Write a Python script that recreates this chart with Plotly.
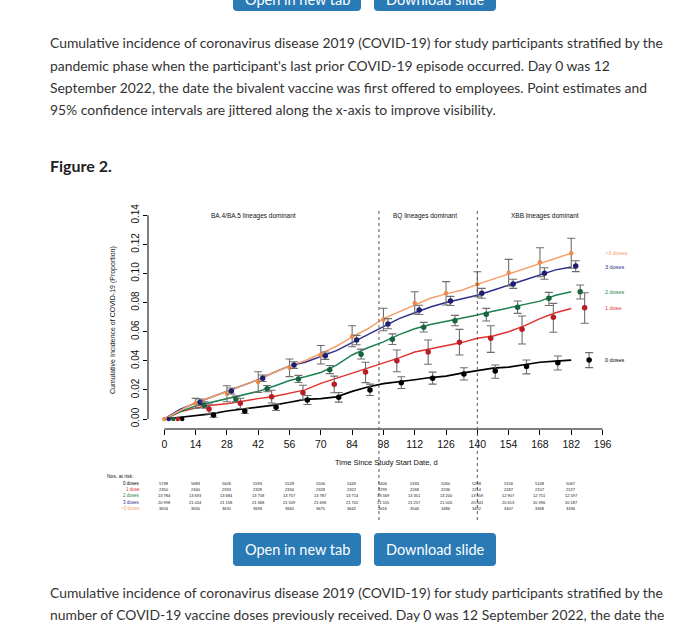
import plotly.graph_objects as go

W, H = 685, 624

def X(px):
    return px / W

def Y(py):
    return 1 - py / H

# ---------------- data ----------------
groups = ["0 doses", "1 dose", "2 doses", "3 doses", ">3 doses"]

curve_days = [0, 7, 14, 21, 28, 35, 42, 49, 56, 63, 70, 77, 84, 91, 98,
              105, 112, 119, 126, 133, 140, 147, 154, 161, 168, 175, 182]
cum_0 = [0, 0.0012, 0.0025, 0.0035, 0.0055, 0.0068, 0.0078, 0.0095, 0.0115, 0.0135, 0.0140,
         0.0152, 0.0190, 0.0220, 0.0243, 0.0255, 0.0270, 0.0285, 0.0295, 0.0315, 0.0330,
         0.0350, 0.0357, 0.0375, 0.0390, 0.0398, 0.0405]
cum_1 = [0, 0.0050, 0.0075, 0.0095, 0.0105, 0.0125, 0.0140, 0.0155, 0.0175, 0.0200, 0.0245,
         0.0280, 0.0310, 0.0345, 0.0380, 0.0420, 0.0460, 0.0480, 0.0505, 0.0525, 0.0555,
         0.0570, 0.0600, 0.0640, 0.0690, 0.0730, 0.0760]
cum_2 = [0, 0.0050, 0.0090, 0.0115, 0.0135, 0.0160, 0.0190, 0.0225, 0.0265, 0.0290, 0.0320,
         0.0370, 0.0440, 0.0490, 0.0530, 0.0580, 0.0620, 0.0650, 0.0670, 0.0690, 0.0715,
         0.0740, 0.0765, 0.0790, 0.0810, 0.0850, 0.0875]
cum_3 = [0, 0.0065, 0.0110, 0.0150, 0.0185, 0.0225, 0.0270, 0.0320, 0.0365, 0.0390, 0.0430,
         0.0470, 0.0525, 0.0580, 0.0640, 0.0690, 0.0730, 0.0770, 0.0800, 0.0825, 0.0850,
         0.0885, 0.0920, 0.0950, 0.0990, 0.1025, 0.1045]
cum_4 = [0, 0.0060, 0.0115, 0.0150, 0.0190, 0.0225, 0.0270, 0.0320, 0.0365, 0.0400, 0.0450,
         0.0500, 0.0565, 0.0620, 0.0690, 0.0735, 0.0785, 0.0830, 0.0860, 0.0885, 0.0925,
         0.0960, 0.1000, 0.1035, 0.1070, 0.1105, 0.1140]

pt_days = [0, 14, 28, 42, 56, 70, 84, 98, 112, 126, 140, 154, 168, 182]
pt_0 = [0, 0.0027, 0.0055, 0.0080, 0.0131, 0.0149, 0.0200, 0.0250, 0.0280, 0.0310, 0.0330, 0.0360, 0.0387, 0.0405]
lo_0 = [0, 0.0012, 0.0038, 0.0058, 0.0100, 0.0116, 0.0162, 0.0210, 0.0240, 0.0268, 0.0280, 0.0310, 0.0337, 0.0353]
hi_0 = [0, 0.0042, 0.0072, 0.0102, 0.0162, 0.0182, 0.0240, 0.0290, 0.0322, 0.0352, 0.0371, 0.0405, 0.0433, 0.0456]
pt_1 = [0, 0.0069, 0.0108, 0.0153, 0.0180, 0.0238, 0.0323, 0.0400, 0.0460, 0.0527, 0.0555, 0.0616, 0.0700, 0.0765]
lo_1 = [0, 0.0035, 0.0072, 0.0110, 0.0132, 0.0180, 0.0250, 0.0325, 0.0376, 0.0440, 0.0458, 0.0515, 0.0596, 0.0658]
hi_1 = [0, 0.0103, 0.0143, 0.0198, 0.0232, 0.0295, 0.0390, 0.0474, 0.0543, 0.0616, 0.0641, 0.0708, 0.0795, 0.0868]
pt_2 = [0, 0.0095, 0.0137, 0.0208, 0.0275, 0.0339, 0.0445, 0.0548, 0.0630, 0.0676, 0.0720, 0.0768, 0.0830, 0.0875]
lo_2 = [0, 0.0075, 0.0118, 0.0187, 0.0251, 0.0312, 0.0412, 0.0512, 0.0598, 0.0641, 0.0674, 0.0726, 0.0780, 0.0825]
hi_2 = [0, 0.0118, 0.0157, 0.0230, 0.0300, 0.0368, 0.0480, 0.0585, 0.0664, 0.0712, 0.0760, 0.0811, 0.0870, 0.0921]
pt_3 = [0, 0.0115, 0.0192, 0.0280, 0.0371, 0.0435, 0.0543, 0.0653, 0.0750, 0.0811, 0.0864, 0.0928, 0.1001, 0.1052]
lo_3 = [0, 0.0095, 0.0172, 0.0258, 0.0348, 0.0410, 0.0510, 0.0620, 0.0718, 0.0780, 0.0830, 0.0898, 0.0960, 0.1013]
hi_3 = [0, 0.0137, 0.0213, 0.0302, 0.0393, 0.0460, 0.0575, 0.0690, 0.0782, 0.0843, 0.0898, 0.0960, 0.1040, 0.1088]
pt_4 = [0, 0.0108, 0.0174, 0.0254, 0.0352, 0.0441, 0.0569, 0.0684, 0.0798, 0.0864, 0.0926, 0.1005, 0.1077, 0.1139]
lo_4 = [0, 0.0073, 0.0119, 0.0183, 0.0291, 0.0378, 0.0497, 0.0607, 0.0722, 0.0784, 0.0840, 0.0914, 0.0978, 0.1036]
hi_4 = [0, 0.0142, 0.0229, 0.0325, 0.0412, 0.0505, 0.0641, 0.0761, 0.0875, 0.0944, 0.1012, 0.1097, 0.1177, 0.1242]

risk_days = [0, 14, 28, 42, 56, 70, 84, 98, 112, 126, 140, 154, 168, 182]
risk_0 = [5738, 5683, 5626, 5593, 5528, 5506, 5449, 5406, 5333, 5260, 5208, 5156, 5108, 5067]
risk_1 = [2350, 2340, 2333, 2328, 2334, 2328, 2322, 2299, 2268, 2236, 2214, 2187, 2157, 2127]
risk_2 = [13784, 13693, 13684, 13758, 13757, 13787, 13714, 13569, 13351, 13200, 13059, 12907, 12751, 12597]
risk_3 = [20998, 21024, 21158, 21368, 21509, 21696, 21702, 21555, 21257, 21020, 20841, 20613, 20396, 20187]
risk_4 = [3634, 3630, 3631, 3658, 3665, 3675, 3642, 3616, 3546, 3486, 3452, 3407, 3368, 3336]

phase_labels = ["BA.4/BA.5 lineages dominant", "BQ lineages dominant", "XBB lineages dominant"]
phase_label_days = [39.7, 116.6, 170.3]
phase_bounds = [96, 140]

x_ticks = [0, 14, 28, 42, 56, 70, 84, 98, 112, 126, 140, 154, 168, 182, 196]
y_ticks = [0.00, 0.02, 0.04, 0.06, 0.08, 0.10, 0.12, 0.14]
y_tick_labels = ["0.00", "0.02", "0.04", "0.06", "0.08", "0.10", "0.12", "0.14"]

caption_top = [
    "Cumulative incidence of coronavirus disease 2019 (COVID-19) for study participants stratified by the",
    "pandemic phase when the participant's last prior COVID-19 episode occurred. Day 0 was 12",
    "September 2022, the date the bivalent vaccine was first offered to employees. Point estimates and",
    "95% confidence intervals are jittered along the x-axis to improve visibility.",
]
caption_bottom = [
    "Cumulative incidence of coronavirus disease 2019 (COVID-19) for study participants stratified by the",
    "number of COVID-19 vaccine doses previously received. Day 0 was 12 September 2022, the date the",
]

# ---------------- styles ----------------
curves = [cum_0, cum_1, cum_2, cum_3, cum_4]
pts = [pt_0, pt_1, pt_2, pt_3, pt_4]
los = [lo_0, lo_1, lo_2, lo_3, lo_4]
his = [hi_0, hi_1, hi_2, hi_3, hi_4]
risks = [risk_0, risk_1, risk_2, risk_3, risk_4]
line_colors = ["#000000", "#E0322F", "#1E8050", "#2E2E8C", "#F2A06A"]
marker_colors = ["#000000", "#B81C24", "#17643E", "#1F1F70", "#F08A4B"]
jitter = [8, 6, 4, 2, 0]
row_py = [483, 489.3, 496, 502.3, 508.7]

PX0, PXD = 164.3, 2.236        # pixel of day 0, pixels per day
PY0, PYU = 419.0, 1455.0       # pixel of 0.00, pixels per unit
AX_L, AX_R, AX_B, AX_T = 148, 620, 429, 205

BLUE_BTN = "#2A7AB6"
TXT = "#333333"
PAGE_FONT = "Lato, sans-serif"
PLOT_FONT = "Liberation Sans, Arial, sans-serif"
PAGE_SIZE = 13.9

fig = go.Figure()

for i in range(5):
    fig.add_trace(go.Scatter(
        x=curve_days, y=curves[i], mode="lines",
        line=dict(color=line_colors[i], width=1.7 if i == 0 else 1.5),
        hoverinfo="skip", showlegend=False))

for i in [4, 3, 2, 1, 0]:
    xs = [d + jitter[i] for d in pt_days[1:]]
    ys = pts[i][1:]
    up = [h - p for h, p in zip(his[i][1:], ys)]
    dn = [p - l for p, l in zip(ys, los[i][1:])]
    fig.add_trace(go.Scatter(
        x=xs, y=ys, mode="markers",
        marker=dict(color=marker_colors[i], size=4.5 if i == 4 else 5.5),
        error_y=dict(type="data", symmetric=False, array=up, arrayminus=dn,
                     color="#6E6E6E", thickness=1.1, width=4),
        hoverinfo="skip", showlegend=False))
    fig.add_trace(go.Scatter(
        x=[pt_days[0] + jitter[i]], y=[pts[i][0]], mode="markers",
        marker=dict(color=marker_colors[i], size=4.5),
        hoverinfo="skip", showlegend=False))

shapes = []
annotations = []

# R-style axis lines
shapes.append(dict(type="line", xref="x", yref="paper", x0=x_ticks[0], x1=x_ticks[-1],
                   y0=Y(AX_B), y1=Y(AX_B), line=dict(color="black", width=1)))
shapes.append(dict(type="line", xref="paper", yref="y", x0=X(AX_L), x1=X(AX_L),
                   y0=y_ticks[0], y1=y_ticks[-1], line=dict(color="black", width=1)))

# phase boundaries (dotted)
for b in phase_bounds:
    shapes.append(dict(type="line", xref="x", yref="paper", x0=b, x1=b,
                       y0=Y(520), y1=Y(211), line=dict(color="#555555", width=1, dash="dot")))

for lab, d in zip(phase_labels, phase_label_days):
    annotations.append(dict(text=lab, xref="x", yref="paper", x=d, y=Y(216),
                            showarrow=False, xanchor="center", yanchor="middle",
                            font=dict(family=PLOT_FONT, size=6.5, color="#111111")))

# right-hand group labels
for i in range(5):
    annotations.append(dict(text=groups[i], xref="x", yref="y", x=x_ticks[-1], y=curves[i][-1],
                            showarrow=False, xanchor="left", yanchor="middle",
                            font=dict(family=PLOT_FONT, size=5.5, color=line_colors[i])))

# axis titles
annotations.append(dict(text="Time Since Study Start Date, d", xref="paper", yref="paper",
                        x=X(387), y=Y(462), showarrow=False, xanchor="center", yanchor="middle",
                        font=dict(family=PLOT_FONT, size=7.5, color="#111111")))
annotations.append(dict(text="Cumulative Incidence of COVID-19 (Proportion)", xref="paper", yref="paper",
                        x=X(113), y=Y(320), showarrow=False, textangle=-90,
                        xanchor="center", yanchor="middle",
                        font=dict(family=PLOT_FONT, size=7, color="#111111")))

# numbers at risk table
annotations.append(dict(text="Nos. at risk:", xref="paper", yref="paper", x=X(105), y=Y(476),
                        showarrow=False, xanchor="left", yanchor="middle",
                        font=dict(family=PLOT_FONT, size=5, color="#111111")))
for i in range(5):
    annotations.append(dict(text=groups[i], xref="paper", yref="paper", x=X(142), y=Y(row_py[i]),
                            showarrow=False, xanchor="right", yanchor="middle",
                            font=dict(family=PLOT_FONT, size=4.5, color=line_colors[i])))
    for d, v in zip(risk_days, risks[i]):
        s = f"{v:,}".replace(",", " ") if v >= 10000 else str(v)
        annotations.append(dict(text=s, xref="x", yref="paper", x=d, y=Y(row_py[i]),
                                showarrow=False, xanchor="center", yanchor="middle",
                                font=dict(family=PLOT_FONT, size=4, color="#111111")))

# ---------------- page elements ----------------
def rrect(x0, y0, x1, y1, r):
    pts_ = [
        f"M {X(x0 + r)},{Y(y0)}", f"L {X(x1 - r)},{Y(y0)}", f"Q {X(x1)},{Y(y0)} {X(x1)},{Y(y0 + r)}",
        f"L {X(x1)},{Y(y1 - r)}", f"Q {X(x1)},{Y(y1)} {X(x1 - r)},{Y(y1)}",
        f"L {X(x0 + r)},{Y(y1)}", f"Q {X(x0)},{Y(y1)} {X(x0)},{Y(y1 - r)}",
        f"L {X(x0)},{Y(y0 + r)}", f"Q {X(x0)},{Y(y0)} {X(x0 + r)},{Y(y0)}", "Z"]
    return " ".join(pts_)

buttons = [("Open in new tab", 233, 361), ("Download slide", 374, 496)]
# (button bottom edge, text centre) in page pixels
button_rows = [(11, -1), (566, 549)]
for bottom, text_y in button_rows:
    for label, bx0, bx1 in buttons:
        shapes.append(dict(type="path", xref="paper", yref="paper",
                           path=rrect(bx0, bottom - 33, bx1, bottom, 4),
                           fillcolor=BLUE_BTN, line=dict(width=0), layer="above"))
        annotations.append(dict(text=label, xref="paper", yref="paper", x=X((bx0 + bx1) / 2),
                                y=Y(text_y), showarrow=False, xanchor="center", yanchor="middle",
                                font=dict(family=PAGE_FONT, size=14.5, color="white")))

for k, line in enumerate(caption_top):
    annotations.append(dict(text=line, xref="paper", yref="paper", x=X(48), y=Y(43 + 22.3 * k),
                            showarrow=False, xanchor="left", yanchor="middle",
                            font=dict(family=PAGE_FONT, size=PAGE_SIZE, color=TXT)))
annotations.append(dict(text="<b>Figure 2.</b>", xref="paper", yref="paper", x=X(48), y=Y(166),
                        showarrow=False, xanchor="left", yanchor="middle",
                        font=dict(family=PAGE_FONT, size=16, color="#222222")))
for k, line in enumerate(caption_bottom):
    annotations.append(dict(text=line, xref="paper", yref="paper", x=X(48), y=Y(592 + 22 * k),
                            showarrow=False, xanchor="left", yanchor="middle",
                            font=dict(family=PAGE_FONT, size=PAGE_SIZE, color=TXT)))

fig.update_layout(
    width=W, height=H, margin=dict(l=0, r=0, t=0, b=0),
    paper_bgcolor="white", plot_bgcolor="white",
    showlegend=False,
    xaxis=dict(domain=[X(AX_L), X(AX_R)],
               range=[(AX_L - PX0) / PXD, (AX_R - PX0) / PXD],
               tickvals=x_ticks, ticks="outside", ticklen=5, tickcolor="black",
               tickfont=dict(family=PLOT_FONT, size=10.5, color="#111111"),
               showgrid=False, zeroline=False, showline=False, fixedrange=True),
    yaxis=dict(domain=[Y(AX_B), Y(AX_T)],
               range=[(PY0 - AX_B) / PYU, (PY0 - AX_T) / PYU],
               tickvals=y_ticks, ticktext=y_tick_labels, tickangle=-90,
               ticks="outside", ticklen=4, tickcolor="black",
               tickfont=dict(family=PLOT_FONT, size=10, color="#111111"),
               showgrid=False, zeroline=False, showline=False, fixedrange=True),
    shapes=shapes, annotations=annotations,
)

fig.write_html("out.html", config={"displayModeBar": False, "staticPlot": True},
               post_script="document.body.style.margin='0px';")
